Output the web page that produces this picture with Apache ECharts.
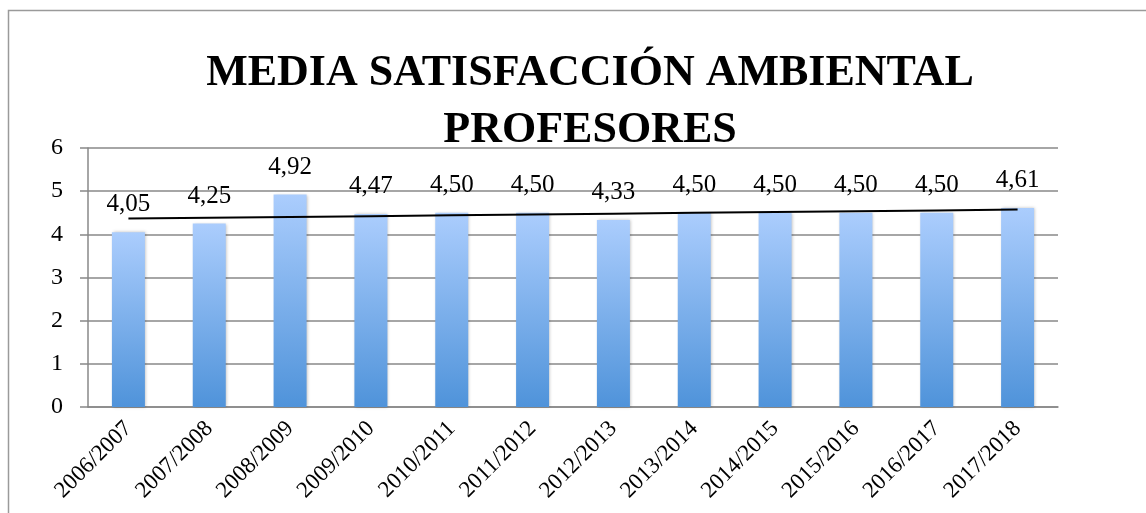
<!DOCTYPE html>
<html>
<head>
<meta charset="utf-8">
<script src="https://cdn.jsdelivr.net/npm/echarts@6/dist/echarts.min.js"></script>
<style>
html, body { margin: 0; padding: 0; background: #fff; }
#chart { width: 1146px; height: 513px; }
</style>
</head>
<body>
<div id="chart"></div>
<script>
var cursos = ['2006/2007', '2007/2008', '2008/2009', '2009/2010', '2010/2011', '2011/2012',
    '2012/2013', '2013/2014', '2014/2015', '2015/2016', '2016/2017', '2017/2018'];
var medias = [4.05, 4.25, 4.92, 4.47, 4.50, 4.50, 4.33, 4.50, 4.50, 4.50, 4.50, 4.61];
var yTicks = [0, 1, 2, 3, 4, 5, 6];

// linea de tendencia (regresion lineal sobre los datos)
function tendencia(vals) {
    var n = vals.length, sx = 0, sy = 0, sxy = 0, sxx = 0;
    for (var i = 0; i < n; i++) {
        sx += i; sy += vals[i]; sxy += i * vals[i]; sxx += i * i;
    }
    var b = (n * sxy - sx * sy) / (n * sxx - sx * sx);
    var a = (sy - b * sx) / n;
    return vals.map(function (v, i) { return +(a + b * i).toFixed(4); });
}

var serif = '"Liberation Serif", "DejaVu Serif", serif';

var option = {
    animation: false,
    title: {
        text: 'MEDIA SATISFACCIÓN AMBIENTAL\nPROFESORES',
        left: 585,
        textAlign: 'center',
        top: 40,
        textStyle: {
            fontFamily: serif,
            fontWeight: 'bold',
            fontSize: 44,
            lineHeight: 57,
            color: '#000'
        }
    },
    graphic: [{
        type: 'rect',
        shape: { x: 8.5, y: 10.5, width: 1160, height: 520 },
        style: { fill: 'none', stroke: '#9a9a9a', lineWidth: 1.5 }
    }],
    grid: { left: 88, right: 88, top: 148, bottom: 106, containLabel: false },
    xAxis: {
        type: 'category',
        data: cursos,
        axisLine: { lineStyle: { color: '#888', width: 1.5 } },
        axisTick: { length: 7, lineStyle: { color: '#888', width: 1.5 } },
        axisLabel: {
            rotate: 45,
            fontFamily: serif,
            fontSize: 23,
            color: '#000',
            margin: 18
        }
    },
    yAxis: {
        type: 'value',
        min: 0,
        max: 6,
        interval: 1,
        axisLine: { show: true, lineStyle: { color: '#888', width: 1.5 } },
        axisTick: { show: true, length: 8, lineStyle: { color: '#888', width: 1.5 } },
        splitLine: { lineStyle: { color: '#888', width: 1.5 } },
        axisLabel: {
            fontFamily: serif,
            fontSize: 24,
            color: '#000',
            margin: 25,
            formatter: function (v) { return yTicks.indexOf(v) >= 0 ? String(v) : ''; }
        }
    },
    series: [{
        type: 'bar',
        data: medias,
        barWidth: 33,
        itemStyle: {
            color: new echarts.graphic.LinearGradient(0, 0, 0, 1, [
                { offset: 0, color: '#abcdfd' },
                { offset: 1, color: '#4f93da' }
            ]),
            shadowColor: 'rgba(0,0,0,0.25)',
            shadowBlur: 3,
            shadowOffsetX: 1
        },
        label: {
            show: true,
            position: 'top',
            distance: 15,
            fontFamily: serif,
            fontSize: 25,
            color: '#000',
            formatter: function (p) { return p.value.toFixed(2).replace('.', ','); }
        }
    }, {
        type: 'line',
        data: tendencia(medias),
        symbol: 'none',
        silent: true,
        lineStyle: { color: '#000', width: 2 },
        z: 5
    }]
};

var myChart = echarts.init(document.getElementById('chart'));
myChart.setOption(option, true);
</script>
</body>
</html>
